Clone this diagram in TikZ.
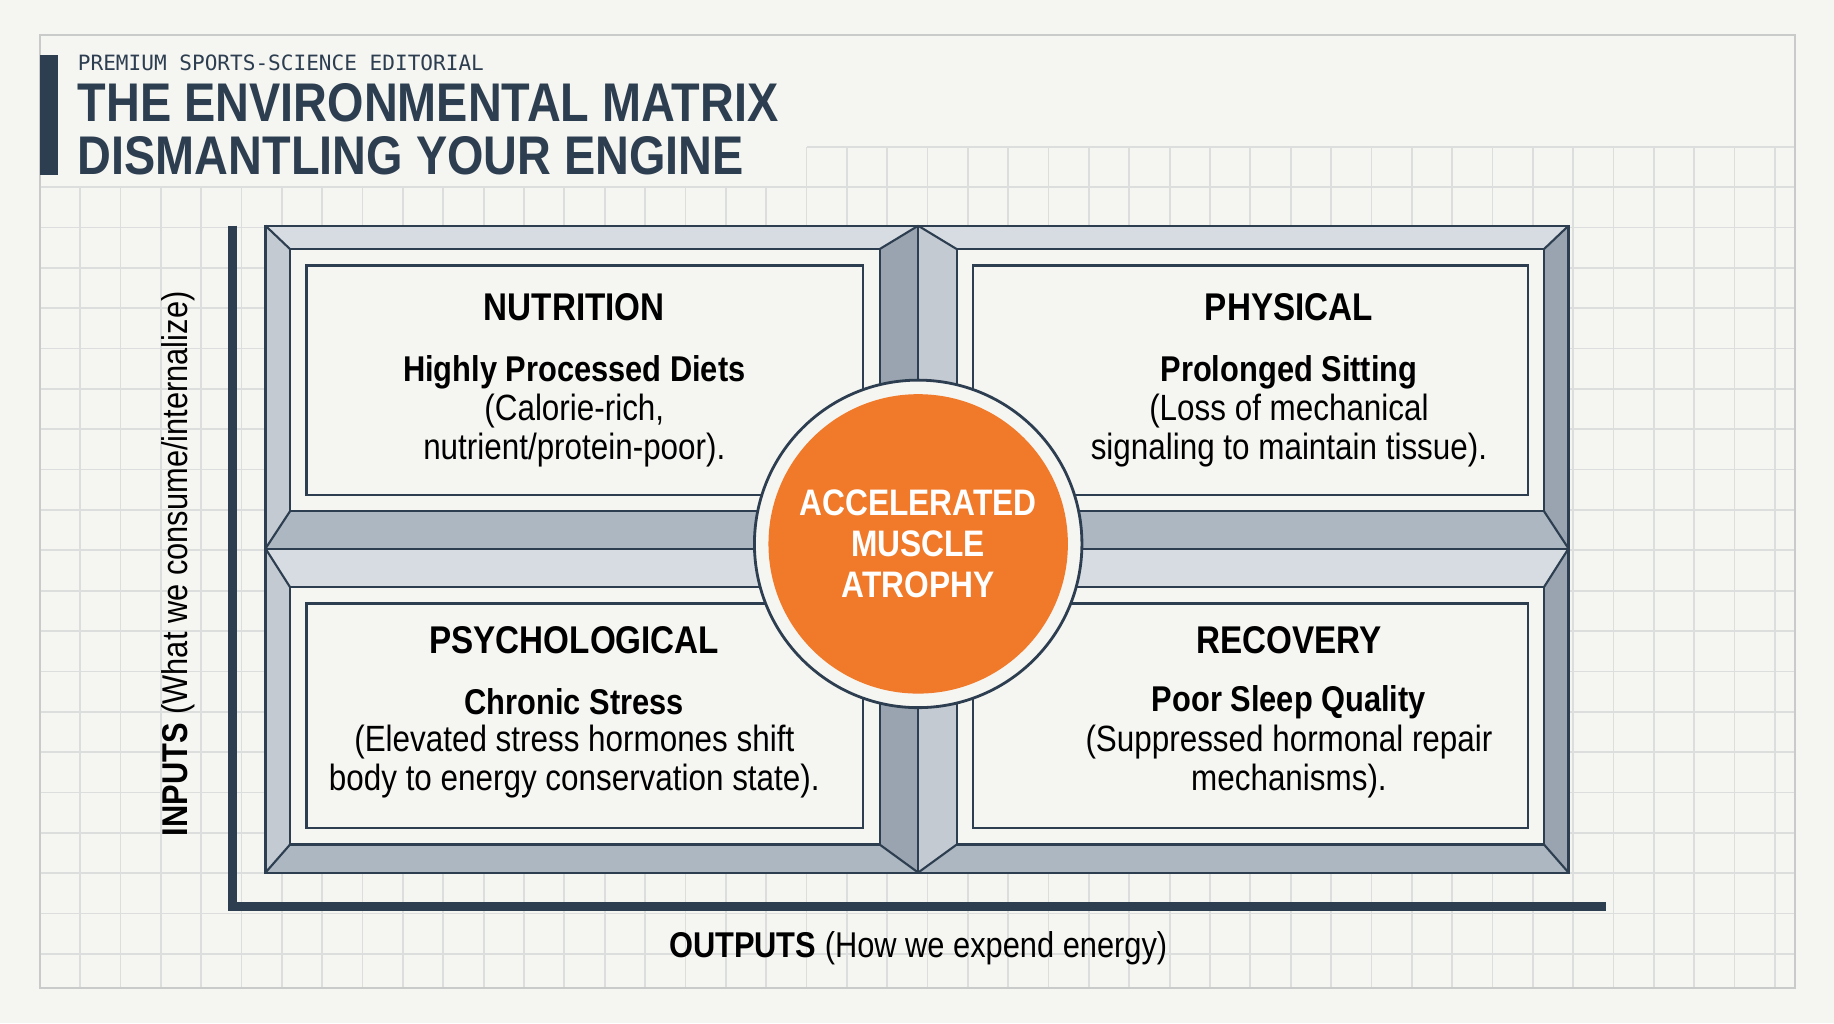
\documentclass[tikz,border=0pt]{standalone}
\usepackage{fontspec}
\setmainfont{Liberation Sans}[FakeStretch=0.86]
\setmonofont{DejaVu Sans Mono}
\usetikzlibrary{positioning}
\definecolor{paper}{HTML}{F5F5F2}
\definecolor{gridc}{HTML}{DCDEDE}
\definecolor{ink}{HTML}{2D3E50}
\definecolor{bevA}{HTML}{D6DCE2}
\definecolor{bevB}{HTML}{C3CAD2}
\definecolor{bevC}{HTML}{99A4B0}
\definecolor{bevD}{HTML}{ADB7C1}
\definecolor{orng}{HTML}{F07A2A}
\tikzset{
  head/.style={font=\bfseries\fontsize{11}{12}\selectfont},
  sub/.style={font=\bfseries\fontsize{10.2}{11}\selectfont},
  body/.style={font=\fontsize{10.4}{11.1}\selectfont,align=center},
  edge/.style={draw=ink,line width=0.6pt},
  gline/.style={gridc,line width=0.5pt},
}
% bevelled cell: outer x1,y1,x2,y2 ; inner a1,b1,a2,b2
\newcommand{\bevcell}[8]{
  \fill[bevA] (#1,#2)--(#3,#2)--(#7,#6)--(#5,#6)--cycle;
  \fill[bevB] (#1,#2)--(#5,#6)--(#5,#8)--(#1,#4)--cycle;
  \fill[bevC] (#3,#2)--(#3,#4)--(#7,#8)--(#7,#6)--cycle;
  \fill[bevD] (#1,#4)--(#5,#8)--(#7,#8)--(#3,#4)--cycle;
  \draw[edge] (#1,#2) rectangle (#3,#4);
  \draw[edge] (#1,#2)--(#5,#6) (#3,#2)--(#7,#6) (#1,#4)--(#5,#8) (#3,#4)--(#7,#8);
  \draw[edge,fill=paper] (#5,#6) rectangle (#7,#8);
  \draw[edge] (#5+14,#6+14) rectangle (#7-14,#8-14);
}
\begin{document}
\begin{tikzpicture}[x=0.011696cm,y=-0.011696cm]
\fill[paper] (0,0) rectangle (1568,875);
\foreach \i in {0,...,43} \draw[gline] (34+34.5*\i,160) -- (34+34.5*\i,845);
\foreach \j in {0,...,19} \draw[gline] (34,160+34.5*\j) -- (1535,160+34.5*\j);
\foreach \i in {19,...,43} \draw[gline] (34+34.5*\i,126) -- (34+34.5*\i,160);
\draw[gline] (690,126) -- (1535,126);
\draw[gridc!80!gray,line width=0.6pt] (34,30) rectangle (1535,845);
\fill[ink] (34,47) rectangle (50,150);
\node[anchor=west,font=\ttfamily\fontsize{6}{7}\selectfont,text=ink,inner sep=0] (kicker) at (66,54) {PREMIUM SPORTS-SCIENCE EDITORIAL};
\node[anchor=west,font=\bfseries\fontsize{15.5}{16}\selectfont,text=ink,inner sep=0] (title1) at (66,88) {THE ENVIRONMENTAL MATRIX};
\node[anchor=west,font=\bfseries\fontsize{15.5}{16}\selectfont,text=ink,inner sep=0] (title2) at (66,133) {DISMANTLING YOUR ENGINE};

\coordinate (ytop) at (199,193);
\coordinate (orig) at (199,775);
\coordinate (xend) at (1373,775);
\draw[ink,line width=2.6pt] (ytop)--(orig)--(xend);

\bevcell{227}{193}{785}{469}{248}{213}{752}{437}
\bevcell{785}{193}{1341}{469}{818}{213}{1320}{437}
\bevcell{227}{469}{785}{746}{248}{502}{752}{722}
\bevcell{785}{469}{1341}{746}{818}{502}{1320}{722}

\node[head] (nut) at (491,263) {NUTRITION};
\node[sub] (nutS) at (491,318) {Highly Processed Diets};
\node[body] (nutB) at (491,368) {(Calorie-rich,\\nutrient/protein-poor).};
\node[head] (phy) at (1102,263) {PHYSICAL};
\node[sub] (phyS) at (1102,318) {Prolonged Sitting};
\node[body] (phyB) at (1102,368) {(Loss of mechanical\\signaling to maintain tissue).};
\node[head] (psy) at (491,547) {PSYCHOLOGICAL};
\node[sub] (psyS) at (491,600) {Chronic Stress};
\node[body] (psyB) at (491,651) {(Elevated stress hormones shift\\body to energy conservation state).};
\node[head] (rec) at (1102,547) {RECOVERY};
\node[sub] (recS) at (1102,600) {Poor Sleep Quality};
\node[body] (recB) at (1102,651) {(Suppressed hormonal repair\\mechanisms).};

\node[circle,draw=ink,line width=0.8pt,fill=paper,minimum size=280*0.011696cm] (ring) at (785,465) {};
\node[circle,fill=orng,minimum size=256*0.011696cm,text=white,align=center,
  font=\bfseries\fontsize{10.5}{11.6}\selectfont] (core) at (ring) {ACCELERATED\\MUSCLE\\ATROPHY};

\node[rotate=90,font=\fontsize{10.2}{11}\selectfont] (ylab) at (152,482) {\textbf{INPUTS} (What we consume/internalize)};
\node[font=\fontsize{10.2}{11}\selectfont] (xlab) at (785,811) {\textbf{OUTPUTS} (How we expend energy)};
\end{tikzpicture}
\end{document}
